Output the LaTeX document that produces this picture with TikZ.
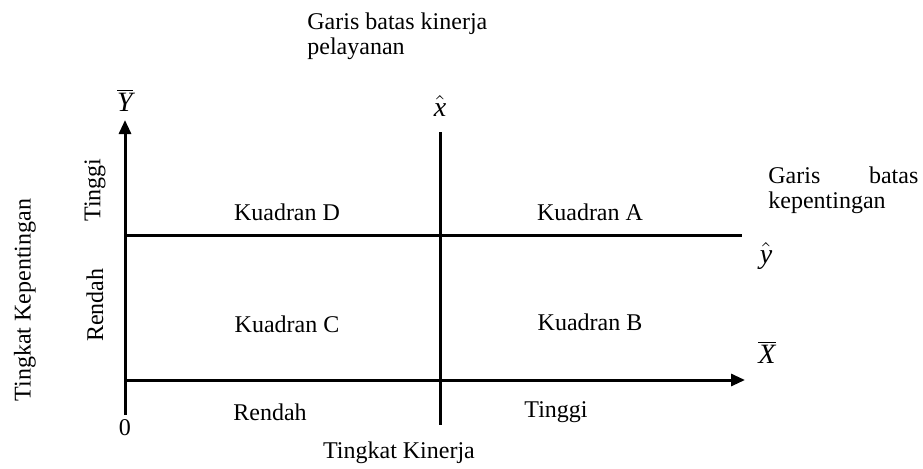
\documentclass[tikz,border=0pt]{standalone}
\usepackage{fontspec}
\setmainfont{Liberation Serif}
\usetikzlibrary{arrows.meta}
\tikzset{
  axisline/.style={line width=1.5pt, -{Triangle[length=7pt,width=6pt]}},
  divline/.style={line width=1.5pt},
  lbl/.style={inner sep=0pt, font=\fontsize{12}{12.6}\selectfont},
  sym/.style={inner sep=0pt, font=\fontsize{14}{15}\selectfont},
  rot/.style={lbl, rotate=90}
}
\begin{document}
\begin{tikzpicture}[x=0.5pt, y=-0.5pt]
\useasboundingbox (0,0) rectangle (923,468);
% axes and dividing lines
\coordinate (o) at (125,415);
\coordinate (ytip) at (125,120);
\coordinate (xs) at (125,380);
\coordinate (xtip) at (745,380);
\coordinate (hs) at (125,235);
\coordinate (he) at (742,235);
\coordinate (vs) at (440,132);
\coordinate (ve) at (440,425);
\draw[axisline] (o) -- (ytip);
\draw[axisline] (xs) -- (xtip);
\draw[divline] (hs) -- (he);
\draw[divline] (vs) -- (ve);
% axis symbols
\node[sym] (ybar) at (125,100) {$\overline{\textit{Y}}$};
\node[sym] (xhat) at (440,106) {$\hat{\textit{x}}$};
\node[sym] (yhat) at (766,256) {$\hat{\textit{y}}$};
\node[sym] (xbar) at (767,352) {$\overline{\textit{X}}$};
% boundary captions
\node[lbl, anchor=north west, align=left] (gk) at (307,12) {Garis batas kinerja\\pelayanan};
\node[lbl, anchor=north west, align=left] (gp) at (768,166) {\makebox[75pt][s]{Garis\hfill batas}\\kepentingan};
% quadrants
\node[lbl] (qd) at (287,212) {Kuadran D};
\node[lbl] (qa) at (590,212) {Kuadran A};
\node[lbl] (qc) at (287,324) {Kuadran C};
\node[lbl] (qb) at (590,322) {Kuadran B};
% vertical axis labels
\node[rot] (yt) at (95,190) {Tinggi};
\node[rot] (yr) at (95,305) {Rendah};
\node[rot] (ytitle) at (25,300) {Tingkat Kepentingan};
% horizontal axis labels
\node[lbl] (zero) at (125,428) {0};
\node[lbl] (xr) at (270,412) {Rendah};
\node[lbl] (xt) at (556,412) {Tinggi};
\node[lbl] (xtitle) at (399,453) {Tingkat Kinerja};
\end{tikzpicture}
\end{document}
